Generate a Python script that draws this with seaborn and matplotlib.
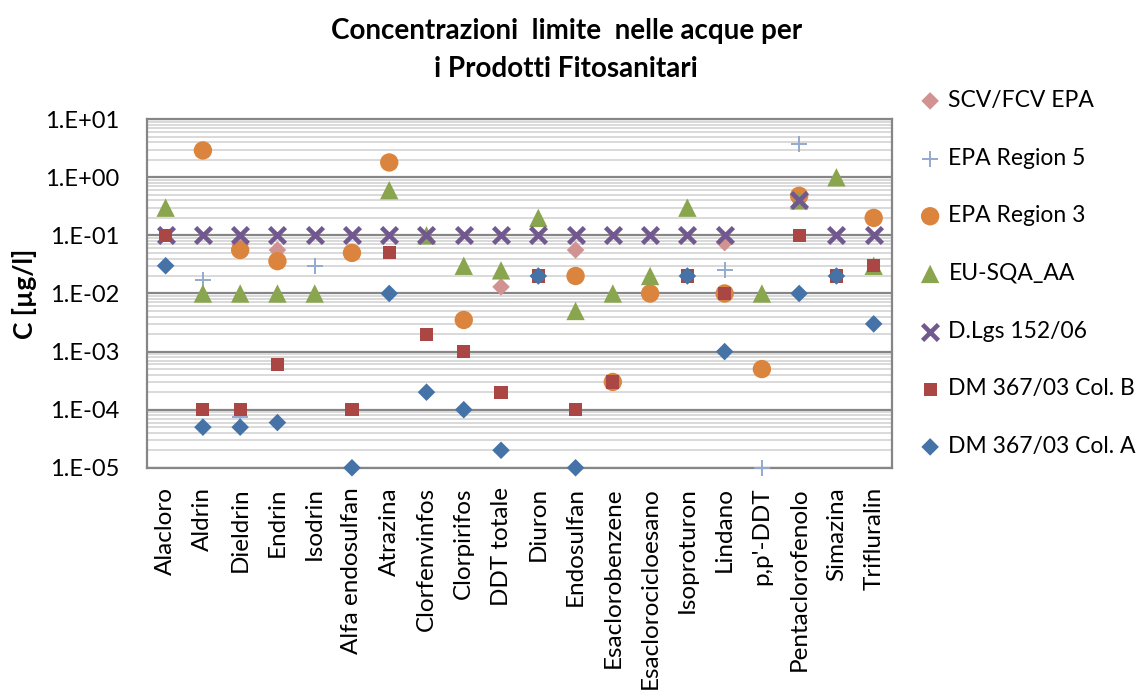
import numpy as np
import pandas as pd
import matplotlib
matplotlib.use("Agg")
import matplotlib.pyplot as plt
import seaborn as sns
from matplotlib.ticker import LogLocator, FixedLocator, NullFormatter

nan = np.nan

categories = [
    "Alacloro", "Aldrin", "Dieldrin", "Endrin", "Isodrin", "Alfa endosulfan",
    "Atrazina", "Clorfenvinfos", "Clorpirifos", "DDT totale", "Diuron",
    "Endosulfan", "Esaclorobenzene", "Esaclorocicloesano", "Isoproturon",
    "Lindano", "p,p'-DDT", "Pentaclorofenolo", "Simazina", "Trifluralin",
]

scv_fcv_epa = [nan, nan, 0.07, 0.056, nan, nan, nan, nan, nan, 0.013, nan,
               0.056, nan, nan, nan, 0.075, nan, nan, nan, nan]
epa_region5 = [nan, 0.017, 7.5e-5, nan, 0.03, nan, nan, nan, nan, nan, nan,
               nan, nan, nan, nan, 0.025, 1e-5, 3.8, nan, nan]
epa_region3 = [nan, 2.9, 0.056, 0.036, nan, 0.05, 1.8, nan, 0.0035, nan, nan,
               0.02, 3e-4, 0.01, nan, 0.01, 5e-4, 0.48, nan, 0.2]
eu_sqa_aa = [0.3, 0.01, 0.01, 0.01, 0.01, nan, 0.6, 0.1, 0.03, 0.025, 0.2,
             0.005, 0.01, 0.02, 0.3, nan, 0.01, 0.4, 1.0, 0.03]
dlgs_152_06 = [0.1, 0.1, 0.1, 0.1, 0.1, 0.1, 0.1, 0.1, 0.1, 0.1, 0.1,
               0.1, 0.1, 0.1, 0.1, 0.1, nan, 0.4, 0.1, 0.1]
dm_col_b = [0.1, 1e-4, 1e-4, 6e-4, nan, 1e-4, 0.05, 0.002, 0.001, 2e-4, 0.02,
            1e-4, 3e-4, nan, 0.02, 0.01, nan, 0.1, 0.02, 0.03]
dm_col_a = [0.03, 5e-5, 5e-5, 6e-5, nan, 1e-5, 0.01, 2e-4, 1e-4, 2e-5, 0.02,
            1e-5, nan, nan, 0.02, 0.001, nan, 0.01, 0.02, 0.003]

y_ticks = [1e-5, 1e-4, 1e-3, 1e-2, 1e-1, 1e0, 1e1]
y_ticklabels = ["1.E-05", "1.E-04", "1.E-03", "1.E-02", "1.E-01", "1.E+00", "1.E+01"]

series = [
    ("SCV/FCV EPA", scv_fcv_epa, "D", "#D19392", 80, 0),
    ("EPA Region 5", epa_region5, "+", "#93A9CF", 140, 1.4),
    ("EPA Region 3", epa_region3, "o", "#DB843D", 175, 0),
    ("EU-SQA_AA", eu_sqa_aa, "^", "#89A54E", 175, 0),
    ("D.Lgs 152/06", dlgs_152_06, "x", "#71588F", 130, 3.3),
    ("DM 367/03 Col. B", dm_col_b, "s", "#AA4643", 90, 0),
    ("DM 367/03 Col. A", dm_col_a, "D", "#4572A7", 80, 0),
]

FONT = ["Lato", "DejaVu Sans"]

fig = plt.figure(figsize=(11.44, 6.93), dpi=100)
ax = fig.add_axes([0.1285, 0.325, 0.6515, 0.503])

x_pos = np.arange(len(categories))
for label, values, marker, color, size, lw in series:
    df = pd.DataFrame({"x": x_pos, "y": values}).dropna()
    if marker in ("x", "+"):
        sns.scatterplot(data=df, x="x", y="y", marker=marker, color=color,
                        s=size, linewidth=lw, ax=ax, label=label, zorder=3,
                        clip_on=False)
    else:
        sns.scatterplot(data=df, x="x", y="y", marker=marker, color=color,
                        s=size, edgecolor="none", ax=ax, label=label, zorder=3,
                        clip_on=False)

ax.set_yscale("log")
ax.set_ylim(1e-5, 10)
ax.set_xlim(-0.5, len(categories) - 0.5)
ax.yaxis.set_major_locator(FixedLocator(y_ticks))
ax.yaxis.set_minor_locator(LogLocator(base=10, subs=np.arange(2, 10)))
ax.yaxis.set_minor_formatter(NullFormatter())
ax.set_yticks(y_ticks)
ax.set_yticklabels(y_ticklabels, fontsize=17, family=FONT)
ax.set_xticks(x_pos)
ax.set_xticklabels(categories, rotation=90, fontsize=17.5, family=FONT)
ax.tick_params(axis="both", which="both", length=0)
ax.tick_params(axis="y", pad=20)
ax.tick_params(axis="x", pad=14)

ax.grid(which="major", axis="y", color="#868686", linewidth=1.6, zorder=1)
ax.grid(which="minor", axis="y", color="#D9D9D9", linewidth=1.4, zorder=0)
ax.set_axisbelow(True)
for sp in ax.spines.values():
    sp.set_color("#868686")
    sp.set_linewidth(1.6)

ax.set_xlabel("")
ax.set_ylabel("C [µg/l]", fontsize=19, fontweight="bold", labelpad=6, family=FONT)
fig.text(0.495, 0.928, "Concentrazioni  limite  nelle acque per\ni Prodotti Fitosanitari",
         ha="center", va="center", fontsize=20, fontweight="bold",
         linespacing=1.55, family=FONT)

handles, labels = ax.get_legend_handles_labels()
ax.legend_.remove()
fig.legend(handles, labels, loc="upper left", bbox_to_anchor=(0.783, 0.9),
           frameon=False, labelspacing=1.6, handletextpad=0.2,
           handlelength=1.2, prop={"family": FONT, "size": 16.5})

fig.savefig("out.png", dpi=100)
